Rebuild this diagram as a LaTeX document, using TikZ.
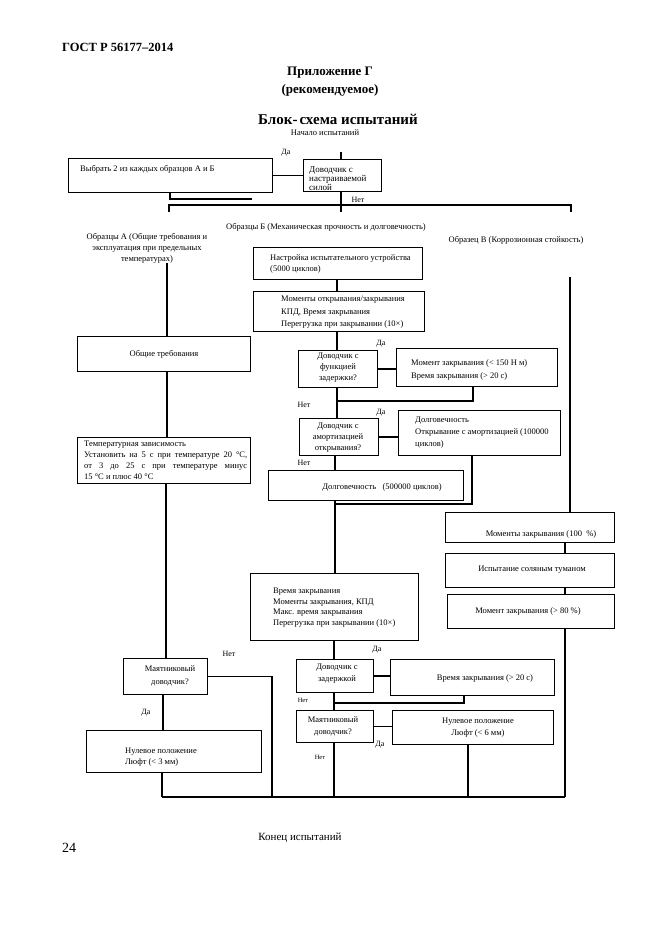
\documentclass[tikz,border=0pt]{standalone}
\usepackage{fontspec}
\setmainfont{Liberation Serif}
\usetikzlibrary{calc}
\tikzset{
 box/.style={draw, line width=1.1pt, inner sep=0pt},
 ln/.style={line width=1.15pt},
 txt/.style={font=\fontsize{8.5}{11}\selectfont, inner sep=0pt, align=left},
 ctxt/.style={txt, align=center},
 lab/.style={font=\fontsize{8}{9}\selectfont, inner sep=0pt},
 slab/.style={font=\fontsize{6.5}{8}\selectfont, inner sep=0pt},
}
\newcommand\bx[5]{\node[box, anchor=north west, minimum width={#4pt-#2pt}, minimum height={#5pt-#3pt}] (#1) at (#2,#3) {};}
\begin{document}
\begin{tikzpicture}[x=1pt,y=-1pt]
\fill[white] (0,0) rectangle (661,935);
\useasboundingbox (0,0) rectangle (661,935);

% header
\node[font=\bfseries\fontsize{12.5}{14}\selectfont, anchor=west, inner sep=0pt] (gost) at (62,47) {ГОСТ Р 56177–2014};
\node[font=\bfseries\fontsize{13}{18}\selectfont, align=center, inner sep=0pt] (app) at (330,82) {Приложение Г\\(рекомендуемое)};
\node[font=\bfseries\fontsize{15}{18}\selectfont, inner sep=0pt] (title) at (338,119) {Блок-\hspace{2pt}схема испытаний};
\node[txt] (start) at (325,133) {Начало испытаний};

% top
\bx{b1}{68}{158}{272}{192}
\node[txt, anchor=west] (t1) at (80,169) {Выбрать 2 из каждых образцов А и Б};
\node[lab] (da1) at (286,153) {Да};
\bx{b2}{303}{159}{381}{191}
\node[txt, anchor=west, font=\fontsize{9}{9}\selectfont] (t2) at (309,179) {Доводчик с\\настраиваемой\\силой};
\coordinate (s0) at (341,152);
\draw[ln] (s0) -- (s0 |- b2.north);
\draw[ln] (b1) -- (b2);
\coordinate (c1) at (252,199);
\draw[ln] ([xshift=102pt]b1.south west) |- (c1);
\coordinate (c2) at (341,212);
\draw[ln] (c2 |- b2.south) -- (c2);
\coordinate (hL) at (169,212);
\coordinate (hR) at (571,212);
\draw[ln] (hL) -- ++(0,-7) -| (hR);
\node[lab] (net0) at (358,200) {Нет};

\node[txt] (lblB) at (326,227) {Образцы Б (Механическая прочность и долговечность)};
\node[ctxt] (lblA) at (147,248) {Образцы А (Общие требования и\\эксплуатация при предельных\\температурах)};
\node[txt] (lblC) at (516,240) {Образец В (Коррозионная стойкость)};

% column A
\coordinate (a0) at (167,263);
\bx{bA1}{77}{336}{250}{371}
\node[txt] (tA1) at (164,354) {Общие требования};
\draw[ln] (a0) -- (a0 |- bA1.north);
\bx{bA2}{77}{437}{250}{483}
\draw[ln] (a0 |- bA1.south) -- (a0 |- bA2.north);
\node[txt, anchor=west] (tA2) at (84,460.5) {Температурная зависимость\\\hbox to 163pt{Установить на 5 с при температуре 20 °С,}\\\hbox to 163pt{от 3 до 25 с при температуре минус}\\15 °С и плюс 40 °С};
\bx{bA3}{123}{658}{207}{694}
\coordinate (a1) at (166,0);
\draw[ln] (a1 |- bA2.south) -- (a1 |- bA3.north);
\node[ctxt, font=\fontsize{8.5}{13}\selectfont] (tA3) at (170,676) {Маятниковый\\доводчик?};
\node[lab] (net1) at (229,654) {Нет};
\coordinate (e1) at (272,797);
\draw[ln] (bA3.east) -| (e1);
\node[lab] (da2) at (146,713) {Да};
\bx{bA4}{86}{730}{261}{772}
\coordinate (a2) at (163,0);
\draw[ln] (a2 |- bA3.south) -- (a2 |- bA4.north);
\node[txt, anchor=west] (tA4) at (125,757.5) {Нулевое положение\\Люфт (< 3 мм)};
\coordinate (e0) at (162,797);
\draw[ln] (e0 |- bA4.south) -- (e0);
\coordinate (e5) at (565,797);
\draw[ln] (e0) -- (e5);

% column B
\coordinate (xb) at (337,0);
\bx{bB1}{253}{247}{422}{279}
\node[txt, anchor=west] (tB1) at (270,263.5) {Настройка испытательного устройства\\(5000 циклов)};
\bx{bB2}{253}{291}{424}{331}
\node[txt, anchor=west, font=\fontsize{8.5}{12.5}\selectfont] (tB2) at (281,312.5) {Моменты открывания/закрывания\\КПД, Время закрывания\\Перегрузка при закрывании (10×)};
\draw[ln] (xb |- bB1.south) -- (xb |- bB2.north);
\bx{bB3}{298}{350}{377}{387}
\draw[ln] (xb |- bB2.south) -- (xb |- bB3.north);
\node[ctxt] (tB3) at (338,368) {Доводчик с\\функцией\\задержки?};
\node[lab] (da3) at (381,344) {Да};
\bx{bB4}{396}{348}{557}{386}
\node[txt, anchor=west, font=\fontsize{8.5}{13}\selectfont] (tB4) at (411,369.5) {Момент закрывания (< 150 Н м)\\Время закрывания (> 20 с)};
\draw[ln] (bB3.east) -- (bB3.east -| bB4.west);
\coordinate (j1) at (337,401);
\draw[ln] ([xshift=77pt]bB4.south west) |- (j1);
\node[lab] (net2) at (304,405) {Нет};
\bx{bB5}{299}{418}{378}{455}
\draw[ln] (xb |- bB3.south) -- (xb |- bB5.north);
\node[ctxt] (tB5) at (338,438) {Доводчик с\\амортизацией\\открывания?};
\node[lab] (da4) at (381,413) {Да};
\bx{bB6}{398}{410}{560}{455}
\node[txt, anchor=west, font=\fontsize{8.5}{12}\selectfont] (tB6) at (415,433) {Долговечность\\Открывание с амортизацией (100000\\циклов)};
\draw[ln] (bB5.east) -- (bB5.east -| bB6.west);
\node[lab] (net3) at (304,463) {Нет};
\bx{bB7}{268}{470}{463}{500}
\coordinate (xb2) at (335,0);
\draw[ln] (xb2 |- bB5.south) -- (xb2 |- bB7.north);
\node[txt] (tB7) at (382,487) {Долговечность \ \ (500000 циклов)};
\coordinate (j2) at (335,504);
\draw[ln] ([xshift=74pt]bB6.south west) |- (j2);
\bx{bB8}{250}{573}{418}{640}
\draw[ln] (xb2 |- bB7.south) -- (xb2 |- bB8.north);
\node[txt, anchor=west, font=\fontsize{8.5}{10.5}\selectfont] (tB8) at (273,607.5) {Время закрывания\\Моменты закрывания, КПД\\Макс. время закрывания\\Перегрузка при закрывании (10×)};
\node[lab] (da5) at (377,650) {Да};
\coordinate (xb3) at (334,0);
\bx{bB9}{296}{659}{373}{692}
\draw[ln] (xb3 |- bB8.south) -- (xb3 |- bB9.north);
\node[ctxt, font=\fontsize{8.5}{12}\selectfont] (tB9) at (337,674) {Доводчик с\\задержкой};
\bx{bB10}{390}{659}{554}{695}
\node[txt] (tB10) at (485,678) {Время закрывания (> 20 с)};
\draw[ln] (bB9.east) -- (bB9.east -| bB10.west);
\coordinate (j3) at (334,703);
\draw[ln] ([xshift=74pt]bB10.south west) |- (j3);
\node[slab] (net4) at (303,700) {Нет};
\bx{bB11}{296}{710}{373}{742}
\draw[ln] (xb3 |- bB9.south) -- (xb3 |- bB11.north);
\node[ctxt, font=\fontsize{8.5}{12}\selectfont] (tB11) at (333,726) {Маятниковый\\доводчик?};
\bx{bB12}{392}{710}{553}{744}
\node[ctxt, font=\fontsize{8.5}{12}\selectfont] (tB12) at (478,728) {Нулевое положение\\Люфт (< 6 мм)};
\draw[ln] (bB11.east) -- (bB11.east -| bB12.west);
\node[lab] (da6) at (380,745) {Да};
\node[slab] (net5) at (320,757) {Нет};
\coordinate (e2) at (334,797);
\draw[ln] (e2 |- bB11.south) -- (e2);
\coordinate (e3) at (468,797);
\draw[ln] (e3 |- bB12.south) -- (e3);

% column C
\coordinate (c0) at (570,277);
\bx{bC1}{445}{512}{614}{542}
\draw[ln] (c0) -- (c0 |- bC1.north);
\node[txt] (tC1) at (541,534) {Моменты закрывания (100 \ \%)};
\bx{bC2}{445}{553}{614}{587}
\coordinate (xc) at (565,0);
\draw[ln] (xc |- bC1.south) -- (xc |- bC2.north);
\node[txt] (tC2) at (532,570) {Испытание соляным туманом};
\bx{bC3}{447}{594}{614}{628}
\draw[ln] (xc |- bC2.south) -- (xc |- bC3.north);
\node[txt] (tC3) at (528,611) {Момент закрывания (> 80 \%)};
\draw[ln] (xc |- bC3.south) -- (e5);

% footer
\node[font=\fontsize{11}{13}\selectfont, inner sep=0pt] (endt) at (300,838) {Конец испытаний};
\node[font=\fontsize{14}{16}\selectfont, inner sep=0pt] (pg) at (69,848) {24};
\end{tikzpicture}
\end{document}
